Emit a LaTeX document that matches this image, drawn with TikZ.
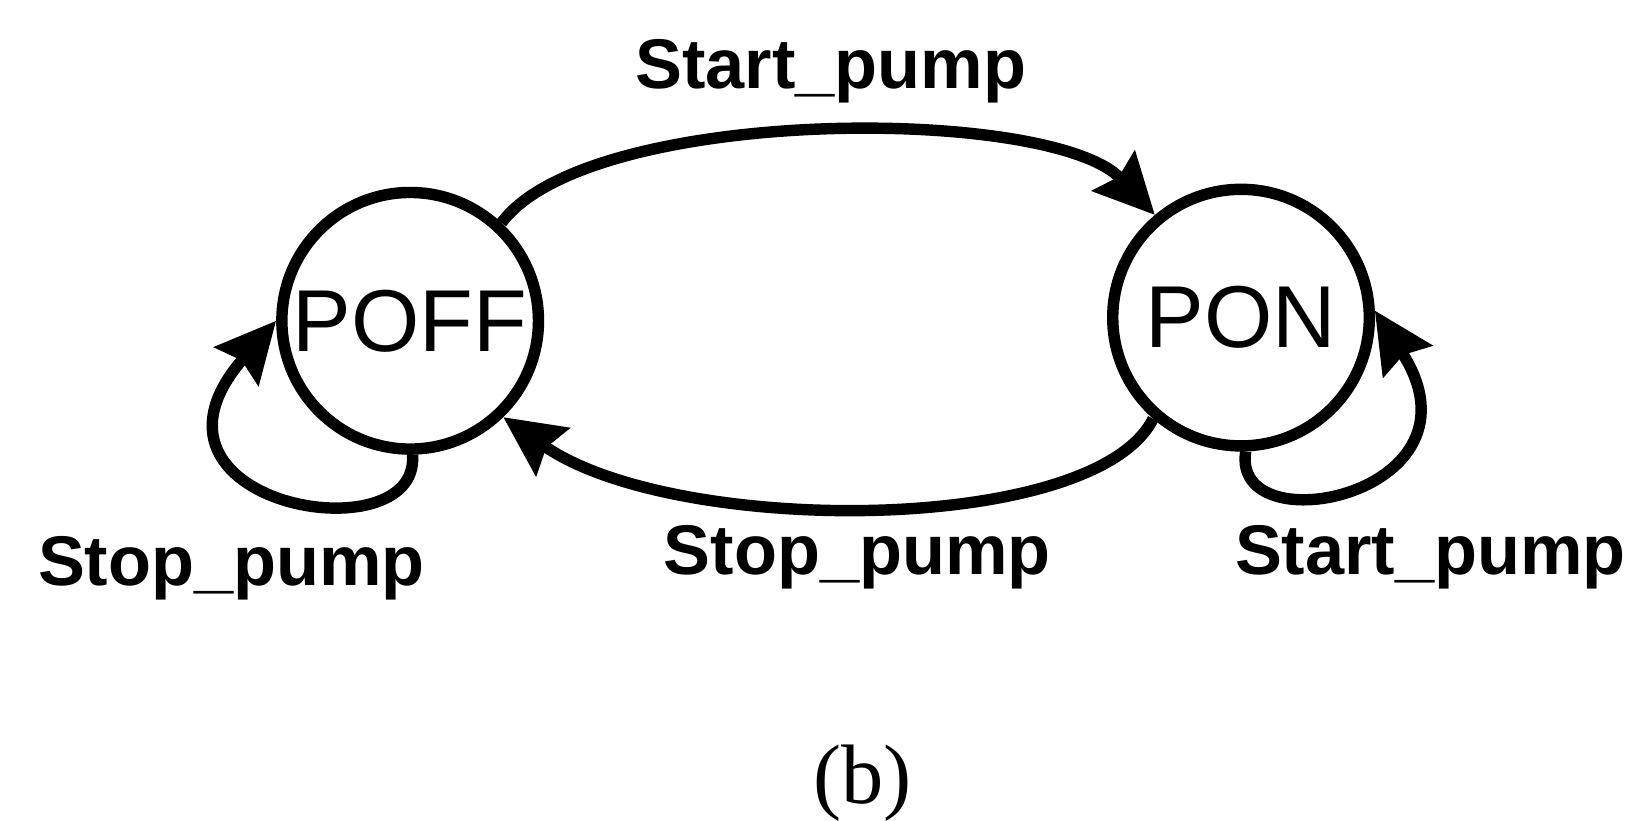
\documentclass[tikz,border=0pt]{standalone}
\usepackage{fontspec}
\setmainfont{Liberation Sans}
\newfontfamily\capfont{Liberation Serif}
\usetikzlibrary{arrows.meta}
\begin{document}
\begin{tikzpicture}[x=0.02103cm,y=-0.02103cm,
  state/.style={circle,draw,line width=6.5pt,minimum size=5.13cm,inner sep=0pt,font=\fontsize{50}{50}\selectfont},
  edge/.style={line width=6.5pt,-{Stealth[length=1.2cm,width=1.15cm,inset=0.15cm]}},
  lbl/.style={font=\fontsize{40}{40}\selectfont\bfseries,inner sep=0pt}]
\useasboundingbox (0,0) rectangle (1566,779.7);
\node[state] (poff) at (390,305) {POFF};
\node[state] (pon) at (1180,302) {PON};
\draw[edge] (poff.47) .. controls (560,100) and (1000,100) .. (pon.130);
\draw[edge] (pon.229) .. controls (1040,510) and (640,510) .. (poff.-46);
\draw[edge] (poff.-89) .. controls (400,530) and (110,480) .. (poff.180);
\draw[edge] (pon.-88) .. controls (1170,520) and (1420,470) .. (pon.3);
\node[lbl] (l1) at (790,68) {Start\_pump};
\node[lbl] (l2) at (815,530) {Stop\_pump};
\node[lbl] (l3) at (220,540) {Stop\_pump};
\node[lbl] (l4) at (1360,530) {Start\_pump};
\node[font=\capfont\fontsize{48}{48}\selectfont] (cap) at (820,745) {(b)};
\end{tikzpicture}
\end{document}
